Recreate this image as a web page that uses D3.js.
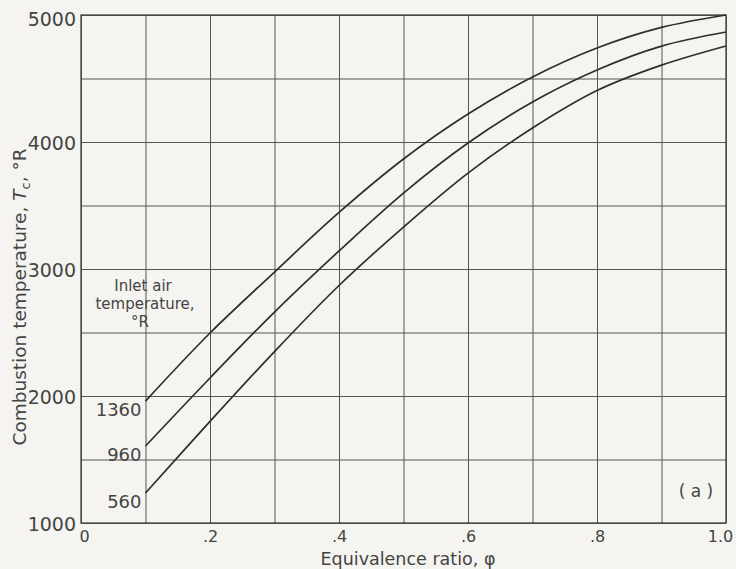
<!DOCTYPE html>
<html>
<head>
<meta charset="utf-8">
<script src="https://cdn.jsdelivr.net/npm/d3@7"></script>
<style>
  html, body { margin: 0; padding: 0; background: #f5f4f0; }
  svg { display: block; }
  text { font-family: "DejaVu Sans", sans-serif; fill: #444; }
</style>
</head>
<body>
<svg id="chart" width="736" height="569"></svg>
<script>
// ---- data ----
const phi = [0.1, 0.2, 0.3, 0.4, 0.5, 0.6, 0.7, 0.8, 0.9, 1.0];
const t1360 = [1960, 2496, 2976, 3445, 3866, 4220, 4512, 4740, 4902, 5000];
const t960  = [1606, 2142, 2661, 3142, 3598, 3992, 4315, 4567, 4755, 4866];
const t560  = [1236, 1800, 2350, 2870, 3330, 3755, 4110, 4405, 4605, 4756];
const seriesNames = ["1360", "960", "560"];
const xTickLabels = [0, 0.2, 0.4, 0.6, 0.8, 1.0];
const yTickLabels = [1000, 2000, 3000, 4000, 5000];
const xGrid = [0, 0.1, 0.2, 0.3, 0.4, 0.5, 0.6, 0.7, 0.8, 0.9, 1.0];
const yGrid = [1000, 1500, 2000, 2500, 3000, 3500, 4000, 4500, 5000];

const L = 81, R = 726, T = 15, B = 523;
const svg = d3.select("#chart");
const x = d3.scaleLinear().domain([0, 1]).range([L, R]);
const y = d3.scaleLinear().domain([1000, 5000]).range([B, T]);

// grid
const gx = svg.append("g").attr("transform", `translate(0,${B})`)
  .call(d3.axisBottom(x).tickValues(xGrid).tickSize(-(B - T)).tickFormat(""));
const gy = svg.append("g").attr("transform", `translate(${L},0)`)
  .call(d3.axisLeft(y).tickValues(yGrid).tickSize(-(R - L)).tickFormat(""));
[gx, gy].forEach(g => {
  g.select(".domain").remove();
  g.selectAll(".tick line").attr("stroke", "#555").attr("stroke-width", 1);
});
// frame
svg.append("rect").attr("x", L).attr("y", T).attr("width", R - L).attr("height", B - T)
  .attr("fill", "none").attr("stroke", "#444").attr("stroke-width", 1.3);

// tick labels
const fmtX = d => d === 0 ? "0" : (d === 1 ? "1.0" : d3.format(".1f")(d).replace(/^0/, ""));
const ax = svg.append("g").attr("transform", `translate(0,${B})`)
  .call(d3.axisBottom(x).tickValues(xTickLabels).tickSize(0).tickPadding(0).tickFormat(fmtX));
ax.select(".domain").remove();
ax.selectAll("text").attr("dy", null).attr("y", 19).attr("font-size", 16)
  .attr("font-family", "DejaVu Sans").attr("fill", "#444")
  .attr("dx", d => d === 1 ? -6 : (d === 0 ? 3 : 0));

const ay = svg.append("g").attr("transform", `translate(${L},0)`)
  .call(d3.axisLeft(y).tickValues(yTickLabels).tickSize(0).tickPadding(5).tickFormat(d3.format("d")));
ay.select(".domain").remove();
ay.selectAll("text").attr("font-size", 19).attr("font-family", "DejaVu Sans").attr("fill", "#444")
  .attr("dy", d => d === 5000 ? "0.55em" : "0.38em");

// curves
const line = d3.line().x(d => x(d[0])).y(d => y(d[1])).curve(d3.curveCatmullRom.alpha(0.5));
const all = [t1360, t960, t560];
all.forEach(s => {
  svg.append("path").datum(phi.map((p, i) => [p, s[i]]))
    .attr("d", line).attr("fill", "none").attr("stroke", "#2e2e2e").attr("stroke-width", 1.7);
});

// curve labels
all.forEach((s, i) => {
  svg.append("text").attr("x", x(phi[0]) - 4).attr("y", y(s[0]) + 15)
    .attr("text-anchor", "end").attr("font-size", 18).text(seriesNames[i]);
});

// annotation
const ann = svg.append("text").attr("text-anchor", "middle").attr("font-size", 15);
ann.append("tspan").attr("x", 143).attr("y", 291).text("Inlet air");
ann.append("tspan").attr("x", 145).attr("y", 309).text("temperature,");
ann.append("tspan").attr("x", 140).attr("y", 327).text("°R");

svg.append("text").attr("x", 696).attr("y", 497).attr("text-anchor", "middle")
  .attr("font-size", 17).text("( a )");

// axis titles
svg.append("text").attr("x", 408).attr("y", 565).attr("text-anchor", "middle")
  .attr("font-size", 17.5).text("Equivalence ratio,  φ");

const yl = svg.append("text").attr("transform", "translate(26,297) rotate(-90)")
  .attr("text-anchor", "middle").attr("font-size", 18.5);
yl.append("tspan").text("Combustion  temperature,  ");
yl.append("tspan").attr("font-style", "italic").text("T");
yl.append("tspan").attr("font-size", 13).attr("dy", 4).text("c");
yl.append("tspan").attr("dy", -4).text(",  °R");
</script>
</body>
</html>
